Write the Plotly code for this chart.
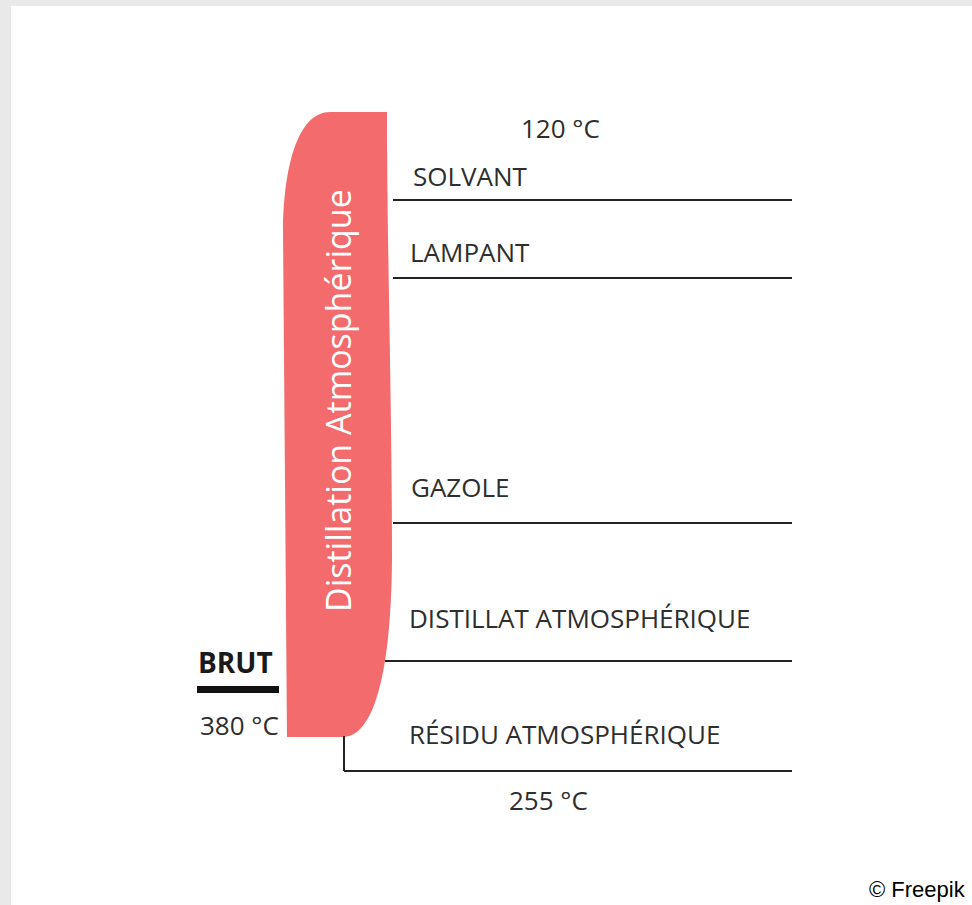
import plotly.graph_objects as go

# ---- diagram content ----
fractions = ["SOLVANT", "LAMPANT", "GAZOLE", "DISTILLAT ATMOSPHÉRIQUE", "RÉSIDU ATMOSPHÉRIQUE"]
cut_y = [200, 278, 523, 661, 771]          # level of each draw-off line
label_y = [176, 252, 487, 618, 734]
label_x = [411, 408, 409, 407, 407]
line_x0 = [393, 393, 393, 385, 344]
temps = ["120 °C", "255 °C", "380 °C"]
temp_xy = [(560, 128), (548, 800), (239, 725)]
feed = "BRUT"
column_title = "Distillation Atmosphérique"

W, H = 972, 905
PINK = "#F36B6D"
INK = "#2e2e2e"
FONT = "Open Sans"

fig = go.Figure()

# draw-off lines
for y, x0 in zip(cut_y, line_x0):
    fig.add_trace(go.Scatter(x=[x0, 792], y=[y, y], mode="lines",
                             line=dict(color="#222222", width=2),
                             hoverinfo="skip", showlegend=False))
# residue vertical connector
fig.add_trace(go.Scatter(x=[344, 344], y=[736, cut_y[-1]], mode="lines",
                         line=dict(color="#222222", width=2),
                         hoverinfo="skip", showlegend=False))
# feed bar
fig.add_trace(go.Scatter(x=[197, 279], y=[689.5, 689.5], mode="lines",
                         line=dict(color="#111111", width=7),
                         hoverinfo="skip", showlegend=False))

shapes = [
    # page border (grey) and white sheet
    dict(type="rect", xref="paper", yref="paper", x0=0, x1=1, y0=0, y1=1,
         fillcolor="#e9e9e9", line_width=0, layer="below"),
    dict(type="rect", xref="x", yref="y", x0=11, x1=W, y0=6, y1=H,
         fillcolor="white", line_width=0, layer="below"),
    # distillation column
    dict(type="path", xref="x", yref="y",
         path=("M 387,112 L 330,112 C 300,112 284,160 283,230 "
               "L 287,737 L 343,737 C 372,737 391,680 392,560 "
               "C 392,400 387,250 387,112 Z"),
         fillcolor=PINK, line_width=0, layer="below"),
]

ann = []
for name, x, y in zip(fractions, label_x, label_y):
    ann.append(dict(x=x, y=y, text=name, xanchor="left", yanchor="middle",
                    showarrow=False, font=dict(family=FONT, size=26, color=INK)))
for t, (x, y) in zip(temps, temp_xy):
    ann.append(dict(x=x, y=y, text=t, xanchor="center", yanchor="middle",
                    showarrow=False, font=dict(family=FONT, size=26, color=INK)))
ann.append(dict(x=235, y=662, text="<b>" + feed + "</b>", xanchor="center", yanchor="middle",
                showarrow=False, font=dict(family=FONT, size=28, color="#1a1a1a")))
ann.append(dict(x=338, y=401, text=column_title, textangle=-90,
                xanchor="center", yanchor="middle", showarrow=False,
                font=dict(family=FONT, size=34, color="white")))
ann.append(dict(x=968, y=889, text="© Freepik", xanchor="right", yanchor="middle",
                showarrow=False, font=dict(family="Liberation Sans", size=22, color="black")))

fig.update_layout(
    width=W, height=H, margin=dict(l=0, r=0, t=0, b=0),
    paper_bgcolor="white", plot_bgcolor="rgba(0,0,0,0)",
    shapes=shapes, annotations=ann,
    xaxis=dict(range=[0, W], visible=False, fixedrange=True),
    yaxis=dict(range=[H, 0], visible=False, fixedrange=True),
)

fig.write_html("out.html", config={"displayModeBar": False},
               post_script="document.body.style.margin='0';document.body.style.overflow='hidden';")
